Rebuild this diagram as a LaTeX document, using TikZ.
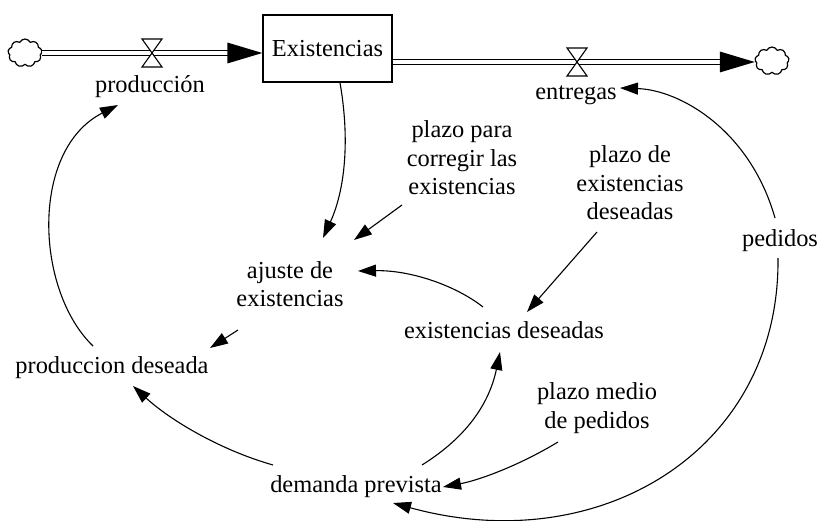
\documentclass[tikz,border=0pt]{standalone}
\usepackage{fontspec}
\setmainfont{Liberation Serif}
\usetikzlibrary{arrows.meta,calc,shapes.symbols}
\begin{document}
\begin{tikzpicture}[x=1pt,y=-1pt,
  lbl/.style={font=\fontsize{24.4}{28.5}\selectfont, inner sep=0pt},
  mlbl/.style={lbl, align=center},
  conn/.style={line width=1.1pt, -{Triangle[length=18pt,width=12pt]}},
  pipe/.style={double, double distance=3.4pt, line width=1.4pt},
  valve/.style={draw, line width=1.1pt, fill=white},
  cloudy/.style={cloud, cloud puffs=9, cloud puff arc=130, cloud ignores aspect, draw, line width=1.2pt, minimum width=34pt, minimum height=28pt, inner sep=0pt}]
\useasboundingbox[fill=white] (0,0) rectangle (819,521);

% stock
\node[lbl, draw, line width=1.4pt, minimum width=129pt, minimum height=67pt] (exist) at (327.5,48.5) {Existencias};

% clouds and valves
\node[cloudy] (cloudL) at (25,53) {};
\node[cloudy] (cloudR) at (772,61) {};
\coordinate (v1) at (152,53);
\coordinate (v2) at (577,62);

% pipes
\draw[pipe, shorten >=34pt] (cloudL.east |- v1) -- (exist.west |- v1);
\fill (exist.west |- v1) -- ++(-35,-10.5) -- ++(0,21) -- cycle;
\draw[pipe, shorten >=34pt] (exist.east |- v2) -- (cloudR.west |- v2);
\fill (cloudR.west |- v2) -- ++(-35,-10.5) -- ++(0,21) -- cycle;
\draw[valve] (v1) ++(-10,-14) -- ++(20,0) -- ++(-20,28) -- ++(20,0) -- cycle;
\draw[valve] (v2) ++(-10,-14) -- ++(20,0) -- ++(-20,28) -- ++(20,0) -- cycle;

% labels
\node[lbl, anchor=base] (prod) at (150,93) {producción};
\node[lbl, anchor=base] (entregas) at (576,100) {entregas};
\node[mlbl] (plpara) at (462,158) {plazo para\\corregir las\\existencias};
\node[mlbl] (plde) at (630,183) {plazo de\\existencias\\deseadas};
\node[lbl, anchor=base] (pedidos) at (780,247) {pedidos};
\node[mlbl] (ajuste) at (290,284) {ajuste de\\existencias};
\node[lbl, anchor=base] (exdes) at (504,338) {existencias deseadas};
\node[lbl, anchor=base] (prodes) at (112,373) {produccion deseada};
\node[mlbl] (plmed) at (597,408) {plazo medio\\de pedidos};
\node[lbl, anchor=base] (demanda) at (356,492) {demanda prevista};

% connectors
\draw[conn] ($(exist.south)+(12.5,0)$) .. controls (350,140) and (345,190) .. ($(ajuste.center)+(33,-46)$);
\draw[conn] ($(plpara.center)+(-60,47)$) -- ($(ajuste.center)+(64,-44)$);
\draw[conn] ($(exdes.base)+(-21,-31)$) .. controls (455,285) and (410,270) .. ($(ajuste.center)+(68,-13)$);
\draw[conn] ($(plde.center)+(-33,49)$) -- ($(exdes.base)+(23,-26)$);
\draw[conn] ($(ajuste.center)+(-52,46)$) -- ($(prodes.base)+(98,-25)$);
\draw[conn] ($(prodes.base)+(-19,-27)$) .. controls (35,290) and (30,150) .. ($(prod.base)+(-32,12)$);
\draw[conn] ($(demanda.base)+(-83,-27)$) .. controls (220,450) and (170,420) .. ($(prodes.base)+(21,13)$);
\draw[conn] ($(demanda.base)+(66,-27)$) .. controls (470,435) and (490,400) .. ($(exdes.base)+(-4,14)$);
\draw[conn] ($(plmed.center)+(-39,34)$) .. controls (520,465) and (480,480) .. ($(demanda.base)+(87,-5)$);
\draw[conn] ($(pedidos.base)+(-2,11)$) .. controls (780,450) and (600,560) .. ($(demanda.base)+(37,11)$);
\draw[conn] ($(pedidos.base)+(-5,-29)$) .. controls (750,130) and (680,90) .. ($(entregas.base)+(44,-12)$);
\end{tikzpicture}
\end{document}
